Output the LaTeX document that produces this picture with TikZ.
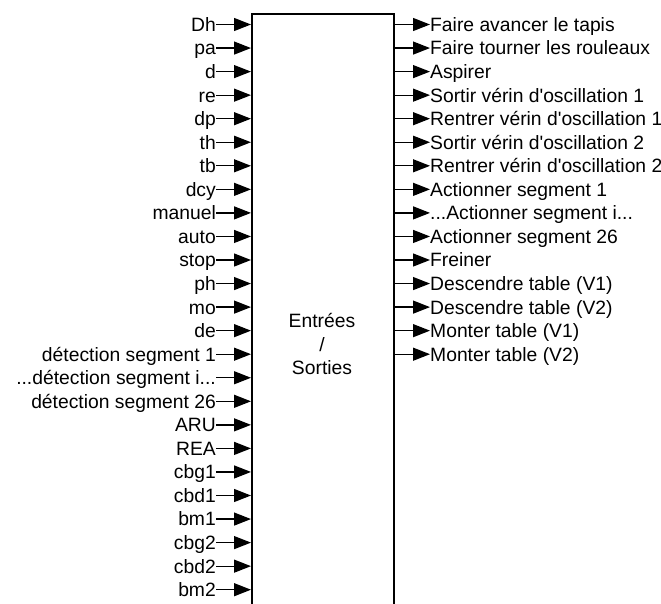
\documentclass[tikz,border=0pt]{standalone}
\usepackage{fontspec}
\setmainfont{Liberation Sans}
\usetikzlibrary{arrows.meta}
\newcommand\trip{...}
\newcommand\ap{\textquotesingle}
\begin{document}
\begin{tikzpicture}[x=1pt,y=-1pt,
  lbl/.style={inner sep=0pt,text height=13.8pt,text depth=0pt,font=\fontsize{19.3}{23}\selectfont},
  sig/.style={-{Triangle[length=17pt,width=13pt]},line width=1.3pt}]
 \clip (0,0) rectangle (661,603);
 % the block, open at the bottom
 \node[draw,line width=2pt,inner sep=0pt,anchor=north west,
   minimum width=142pt,minimum height=640pt] (box) at (251,13) {};
 \node[align=center,inner sep=0pt,font=\fontsize{19.3}{23.5}\selectfont] (title) at (322,344) {Entrées\\/\\Sorties};
 % inputs
 \foreach \name [count=\i] in {Dh,pa,d,re,dp,th,tb,dcy,manuel,auto,stop,ph,mo,de,
   détection segment 1,{\trip détection segment i\trip},détection segment 26,ARU,REA,
   cbg1,cbd1,bm1,cbg2,cbd2,bm2}
 {
   \node[lbl,anchor=east] (in\i) at (216,{24.5+(\i-1)*23.55}) {\name};
   \draw[sig] (in\i.east) -- (in\i.east -| box.west);
 }
 % outputs
 \foreach \name [count=\i] in {Faire avancer le tapis,Faire tourner les rouleaux,Aspirer,
   Sortir vérin d\ap oscillation 1,Rentrer vérin d\ap oscillation 1,
   Sortir vérin d\ap oscillation 2,Rentrer vérin d\ap oscillation 2,
   Actionner segment 1,{\trip Actionner segment i\trip},Actionner segment 26,Freiner,
   {Descendre table (V1)},{Descendre table (V2)},{Monter table (V1)},{Monter table (V2)}}
 {
   \node[lbl,anchor=west] (out\i) at (430,{24.5+(\i-1)*23.55}) {\name};
   \draw[sig] (out\i.west -| box.east) -- (out\i.west);
 }
\end{tikzpicture}
\end{document}
